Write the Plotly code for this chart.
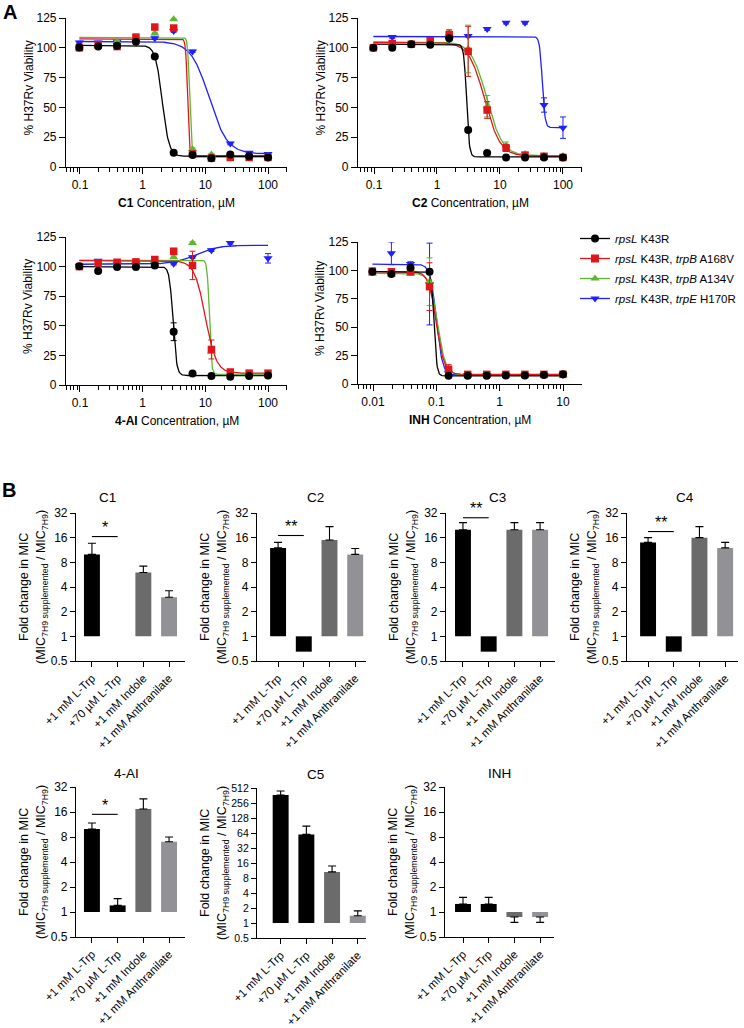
import numpy as np
import plotly.graph_objects as go

W, H = 744, 1028
FONT = "Liberation Sans, Arial, sans-serif"

def px_x(v):
    return v / W

def px_y(v):
    return 1 - v / H

# ---------------- Panel A data ----------------
conc_c = [0.0977, 0.195, 0.391, 0.781, 1.5625, 3.125, 6.25, 12.5, 25, 50, 100]
conc_inh = [0.00977, 0.0195, 0.0391, 0.0781, 0.156, 0.3125, 0.625, 1.25, 2.5, 5, 10]

strain_names = ["<i>rpsL</i> K43R",
                "<i>rpsL</i> K43R, <i>trpB</i> A168V",
                "<i>rpsL</i> K43R, <i>trpB</i> A134V",
                "<i>rpsL</i> K43R, <i>trpE</i> H170R"]
strain_colors = ["#000000", "#e0161b", "#5db82f", "#1f1fff"]
strain_symbols = ["circle", "square", "triangle-up", "triangle-down"]

# C1 viability (%) per strain: K43R, trpB A168V, trpB A134V, trpE H170R
c1_vals = [[100.3, 101, 101.7, 105, 92.7, 12, 10, 7.3, 10.4, 9, 8],
           [100, 102.5, 101, 109, 117.4, 116.6, 11, 7.5, 8, 8, 8],
           [100, 102, 105, 108, 112, 124, 15, 10.5, 9, 9, 9],
           [104.5, 104.5, 105, 105.5, 108, 114, 97, None, 19.7, 12, 11]]
c1_err = [[1] * 11, [1] * 11, [1] * 11, [1] * 11]
# fit params: value at low conc, value at high conc, IC50, Hill slope
c1_fit = [[102, 9, 2.05, 8], [107.5, 8.5, 5.2, 30], [108.7, 9.5, 5.6, 30], [105.3, 11, 11.5, 3]]

c2_vals = [[100, 100, 103, 102.5, 108, 31, 11.8, 8, 8, 8, 8],
           [100, 103.6, 103, 106, 111, 97, 47.8, 16, 10, 9, 8],
           [100, 103, 103, 106, 112, 99, 51, 18, 11, 9.5, 9],
           [None, 109, None, 108, 107, 110, 115.7, 121, 121, 52, 33]]
c2_err = [[1] * 11,
          [1, 1, 1, 2, 4, 21, 7, 3, 1, 1, 1],
          [1, 1, 1, 2, 3, 20, 9, 3, 1, 1, 1],
          [0, 1, 0, 1, 1, 1, 1, 1, 1, 6, 9]]
c2_fit = [[103, 8.5, 2.95, 20], [104.5, 9, 5.7, 3.5], [105, 9.5, 6.2, 3.5], [109.5, 33, 47, 20]]

ai_vals = [[100.3, 96.3, 99.7, 99.7, 101, 45, 9.8, 7.6, 7, 7.5, 8],
           [100, 103, 103.7, 104, 106, 113, 101, 30, 11, 10, 10],
           [100, 103, 103, 103, 105, 108, 120, 28, 10, 9, 9],
           [100.5, 105, 102, 102, 102, 102.5, 108, 113.8, 120, None, 107]]
ai_err = [[1, 1, 1, 1, 1, 7.5, 1, 1, 1, 1, 1],
          [1, 1, 1, 1, 1, 1, 12, 8, 1, 1, 1],
          [1] * 11,
          [1, 1, 1, 1, 1, 1, 1, 1, 1, 0, 4]]
ai_fit = [[100, 8, 3.05, 15], [105, 10, 10, 5], [105.5, 9, 11.6, 25], [102, 118, 7, 2.5]]

inh_vals = [[98.8, 96.8, 102.3, 98.8, 7.3, 7.3, 7.3, 7.5, 7.5, 8, 8.5],
            [99.4, 98.8, 98.8, 85.7, 13, 8.5, 8.5, 8.5, 8.5, 8.5, 8.5],
            [97, 96.5, 97, 90, 12, 8, 8, 8, 8, 8, 8],
            [None, 115, 105.6, 88, 10, 8, 8, 8, 8, 8, 8]]
inh_err = [[1] * 11,
           [1, 1, 1, 21, 4, 1, 1, 1, 1, 1, 1],
           [1, 1, 1, 21, 3, 1, 1, 1, 1, 1, 1],
           [0, 10, 2, 36, 2, 1, 1, 1, 1, 1, 1]]
inh_fit = [[99, 7.2, 0.092, 20], [99, 8.5, 0.1, 7], [97.5, 8, 0.105, 7], [105.5, 8, 0.1, 9]]

viab_ticks = [0, 25, 50, 75, 100, 125]

# ---------------- Panel B data ----------------
supp_labels = ["+1 mM L-Trp", "+70 µM L-Trp", "+1 mM Indole", "+1 mM Anthranilate"]
bar_colors = ["#000000", "#000000", "#6b6b6b", "#929296"]

b_names = ["C1", "C2", "C3", "C4", "4-AI", "C5", "INH"]
b_vals = [[10, 1, 6, 3],
          [12, 0.65, 15, 10],
          [20, 0.65, 20, 20],
          [14, 0.65, 16, 12],
          [10, 1.2, 17.4, 7],
          [370, 60, 10.6, 1.4],
          [1.25, 1.25, 0.87, 0.87]]
b_err = [[3.7, 0, 1.2, 0.6],
         [2, 0, 6.8, 1.8],
         [4.4, 0, 4.4, 4.4],
         [2, 0, 5.8, 2],
         [1.8, 0.25, 5.6, 1],
         [76, 28, 3.3, 0.35],
         [0.25, 0.25, 0.12, 0.12]]
b_sig_text = ["*", "**", "**", "**", "*", None, None]
b_sig_level = [16.5, 17, 28, 19, 15, None, None]
fold_ticks_small = [0.5, 1, 2, 4, 8, 16, 32]
fold_ticks_large = [0.5, 1, 2, 4, 8, 16, 32, 64, 128, 256, 512]

fig = go.Figure()

# ---------------- Panel A ----------------
a_panels = [
    ("C1", conc_c, c1_vals, c1_err, c1_fit, (66, 287), (18, 167), (-1.223, 2.303)),
    ("C2", conc_c, c2_vals, c2_err, c2_fit, (358, 582), (18, 167), (-1.254, 2.302)),
    ("4-AI", conc_c, ai_vals, ai_err, ai_fit, (66, 287), (237, 385), (-1.223, 2.303)),
    ("INH", conc_inh, inh_vals, inh_err, inh_fit, (358, 582), (242, 384), (-2.237, 1.30)),
]

layout_axes = {}
annotations = []

def four_pl(x, p):
    lo, hi, ic50, h = p
    return hi + (lo - hi) / (1 + (x / ic50) ** h)

def ann(text, x, y, size, angle=0, **kw):
    d = dict(text=text, x=px_x(x), y=px_y(y), xref="paper", yref="paper", showarrow=False,
             xanchor="center", yanchor="middle", textangle=angle, font=dict(size=size))
    d.update(kw)
    return d

for i, (name, conc, vals, errs, fits, xd, yd, xr) in enumerate(a_panels):
    n = i + 1
    xa = "x" if n == 1 else f"x{n}"
    ya = "y" if n == 1 else f"y{n}"
    xgrid = np.logspace(np.log10(conc[0]), np.log10(conc[-1]), 400)
    for s in [3, 2, 1, 0]:
        fig.add_trace(go.Scatter(x=xgrid, y=four_pl(xgrid, fits[s]), mode="lines",
                                 line=dict(color=strain_colors[s], width=1.3),
                                 xaxis=xa, yaxis=ya, showlegend=False, hoverinfo="skip",
                                 cliponaxis=False))
    for s in [3, 2, 1, 0]:
        fig.add_trace(go.Scatter(x=conc, y=vals[s], mode="markers",
                                 marker=dict(symbol=strain_symbols[s], color=strain_colors[s],
                                             size=8 if s != 1 else 7.5, line=dict(width=0)),
                                 error_y=dict(type="data", array=errs[s], color=strain_colors[s],
                                              thickness=1, width=3),
                                 xaxis=xa, yaxis=ya, showlegend=False, cliponaxis=False))
    lo_dec = int(np.floor(xr[0]))
    hi_dec = int(np.ceil(xr[1]))
    major = [10.0 ** d for d in range(lo_dec, hi_dec + 1) if xr[0] <= d <= xr[1]]
    major_txt = [("%g" % m) for m in major]
    minor = [k * 10.0 ** d for d in range(lo_dec, hi_dec + 1) for k in range(2, 10)]
    layout_axes["xaxis" if n == 1 else f"xaxis{n}"] = dict(
        type="log", range=list(xr), domain=[px_x(xd[0]), px_x(xd[1])],
        anchor=ya, showline=True, linecolor="black", linewidth=1.2, automargin=False,
        ticks="outside", ticklen=6, tickwidth=1.2, tickcolor="black",
        tickmode="array", tickvals=major, ticktext=major_txt,
        minor=dict(tickmode="array", tickvals=minor, ticks="outside", ticklen=3.5,
                   tickwidth=1, tickcolor="black", showgrid=False),
        showgrid=False, zeroline=False, tickfont=dict(size=12, color="black"))
    layout_axes["yaxis" if n == 1 else f"yaxis{n}"] = dict(
        range=[0, 125], domain=[px_y(yd[1]), px_y(yd[0])], anchor=xa, automargin=False,
        showline=True, linecolor="black", linewidth=1.2,
        ticks="outside", ticklen=6, tickwidth=1.2, tickcolor="black",
        tickmode="array", tickvals=viab_ticks,
        showgrid=False, zeroline=False, tickfont=dict(size=12, color="black"))
    annotations.append(ann(f"<b>{name}</b> Concentration, µM", (xd[0] + xd[1]) / 2,
                           yd[1] + 36, 12))
    annotations.append(ann("% H37Rv Viability", xd[0] - 38, (yd[0] + yd[1]) / 2 - 4, 12,
                           angle=-90))

# legend dummy traces
for s in range(4):
    fig.add_trace(go.Scatter(x=[None], y=[None], mode="lines+markers", name=strain_names[s],
                             marker=dict(symbol=strain_symbols[s], color=strain_colors[s], size=8),
                             line=dict(color=strain_colors[s], width=1.3),
                             legendgroup=f"g{s}", legendrank=s + 1, showlegend=True))

# ---------------- Panel B ----------------
b_layout = [
    ((76, 185), (513, 661), (-0.62, 3.62), (107, 497)),
    ((257, 366), (513, 661), (-0.82, 3.42), (315, 497)),
    ((446, 555), (513, 661), (-0.66, 3.58), (497, 497)),
    ((627, 738), (513, 661), (-0.82, 3.5), (685, 497)),
    ((76, 185), (787, 937), (-0.62, 3.62), (127, 773)),
    ((257, 366), (788, 938), (-0.92, 3.32), (315, 774)),
    ((445, 554), (787, 937), (-0.7, 3.54), (500, 773)),
]

for j, name in enumerate(b_names):
    n = 5 + j
    xa, ya = f"x{n}", f"y{n}"
    vals = b_vals[j]
    errs = b_err[j]
    fig.add_trace(go.Bar(x=supp_labels, y=[v - 1 for v in vals], base=[1] * 4,
                         marker=dict(color=bar_colors, line=dict(width=0)),
                         width=0.62, xaxis=xa, yaxis=ya, showlegend=False))
    up = [e if v >= 1 else 0 for v, e in zip(vals, errs)]
    down = [e if v < 1 else 0 for v, e in zip(vals, errs)]
    show = [v if e > 0 else None for v, e in zip(vals, errs)]
    fig.add_trace(go.Scatter(x=supp_labels, y=show, mode="markers",
                             marker=dict(size=1, color="rgba(0,0,0,0)"),
                             error_y=dict(type="data", symmetric=False, array=up, arrayminus=down,
                                          color="black", thickness=1.1, width=4),
                             xaxis=xa, yaxis=ya, showlegend=False, cliponaxis=False))
    if b_sig_text[j]:
        lvl = b_sig_level[j]
        fig.add_trace(go.Scatter(x=supp_labels[:2], y=[lvl, lvl], mode="lines",
                                 line=dict(color="black", width=1.1),
                                 xaxis=xa, yaxis=ya, showlegend=False, cliponaxis=False))
        annotations.append(dict(text=b_sig_text[j], x=0.5, y=np.log10(lvl), xref=xa, yref=ya,
                                showarrow=False, yshift=9, xanchor="center", yanchor="middle",
                                font=dict(size=16)))
    xd, yd, cr, tp = b_layout[j]
    big = name == "C5"
    ticks = fold_ticks_large if big else fold_ticks_small
    layout_axes[f"xaxis{n}"] = dict(
        type="category", range=list(cr), domain=[px_x(xd[0]), px_x(xd[1])], anchor=ya,
        showline=True, linecolor="black", linewidth=1.2, automargin=False,
        ticks="outside", ticklen=5, tickwidth=1.2, tickcolor="black",
        tickangle=-45, showgrid=False, zeroline=False, tickfont=dict(size=11.5, color="black"))
    layout_axes[f"yaxis{n}"] = dict(
        type="log", range=[np.log10(ticks[0]), np.log10(ticks[-1])],
        domain=[px_y(yd[1]), px_y(yd[0])], anchor=xa, automargin=False,
        showline=True, linecolor="black", linewidth=1.2,
        ticks="outside", ticklen=5, tickwidth=1.2, tickcolor="black",
        tickmode="array", tickvals=ticks, ticktext=[("%g" % t) for t in ticks],
        showgrid=False, zeroline=False,
        tickfont=dict(size=10.5 if big else 12, color="black"))
    annotations.append(ann(name, tp[0], tp[1], 13.5))
    annotations.append(ann("Fold change in MIC", xd[0] - 52, (yd[0] + yd[1]) / 2, 12.5,
                           angle=-90))
    annotations.append(ann("(MIC<sub>7H9 supplemented</sub> / MIC<sub>7H9</sub>)",
                           xd[0] - 34, (yd[0] + yd[1]) / 2, 12.5, angle=-90))

annotations.append(ann("<b>A</b>", 10, 12, 20))
annotations.append(ann("<b>B</b>", 9, 490, 20))

fig.update_layout(
    template="none",
    width=W, height=H, margin=dict(l=0, r=0, t=0, b=0, autoexpand=False),
    paper_bgcolor="white", plot_bgcolor="white",
    font=dict(family=FONT, size=12, color="black"),
    showlegend=True,
    legend=dict(x=px_x(575), y=px_y(224), xanchor="left", yanchor="top",
                font=dict(size=11.5), itemwidth=30, bgcolor="rgba(0,0,0,0)",
                tracegroupgap=1, borderwidth=0),
    bargap=0.38,
    hovermode=False,
    annotations=annotations,
    **layout_axes,
)

fig.write_html("out.html", config={"displayModeBar": False},
               post_script="document.body.style.margin='0px';document.body.style.padding='0px';")
